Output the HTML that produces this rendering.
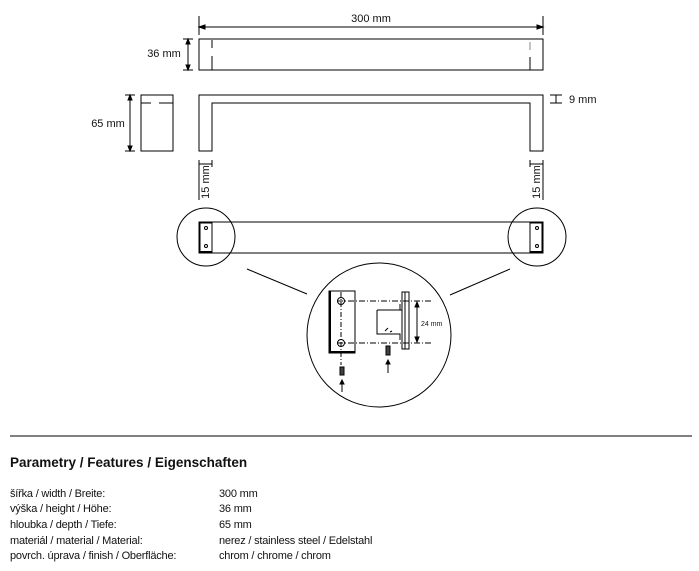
<!DOCTYPE html>
<html><head><meta charset="utf-8"><style>
html,body{margin:0;padding:0;background:#fff;width:699px;height:571px;overflow:hidden}
svg{display:block}
text{font-family:"Liberation Sans",sans-serif;fill:#111}
</style></head><body>
<svg width="699" height="571" viewBox="0 0 699 571" xmlns="http://www.w3.org/2000/svg">
<g stroke="#000" stroke-width="1" fill="none">
<!-- top view -->
<line x1="199" y1="16" x2="199" y2="35"/><line x1="543" y1="16" x2="543" y2="35"/>
<line x1="199" y1="27" x2="543" y2="27"/>
<path d="M199 27l6-2v4z M543 27l-6-2v4z" fill="#000"/>
<rect x="199" y="39" width="344" height="31"/>
<line x1="212" y1="40" x2="212" y2="48"/><line x1="212" y1="56" x2="212" y2="70"/>
<line x1="530" y1="42" x2="530" y2="50" stroke="#888"/><line x1="530" y1="57" x2="530" y2="70"/>
<line x1="188" y1="39" x2="188" y2="70"/><line x1="183" y1="39" x2="193" y2="39"/><line x1="183" y1="70" x2="193" y2="70"/>
<path d="M188 39l-2 5h4z M188 70l-2-5h4z" fill="#000"/>
<!-- side view -->
<path d="M199 151V95H543V151H530V103H212V151Z"/>
<rect x="141" y="95" width="32" height="56"/>
<line x1="141" y1="103" x2="151" y2="103"/><line x1="159" y1="103" x2="173" y2="103"/>
<line x1="130" y1="95" x2="130" y2="151"/><line x1="125" y1="95" x2="135" y2="95"/><line x1="125" y1="151" x2="135" y2="151"/>
<path d="M130 95l-2 5h4z M130 151l-2-5h4z" fill="#000"/>
<line x1="550" y1="95" x2="562" y2="95"/><line x1="550" y1="103" x2="562" y2="103"/><line x1="556" y1="95" x2="556" y2="103"/>
<!-- 15 mm dims -->
<line x1="199" y1="160" x2="199" y2="200"/><line x1="212" y1="160" x2="212" y2="167"/><line x1="199" y1="164" x2="212" y2="164"/>
<line x1="530" y1="160" x2="530" y2="167"/><line x1="543" y1="160" x2="543" y2="200"/><line x1="530" y1="164" x2="543" y2="164"/>
<!-- bottom view -->
<rect x="199" y="222" width="344" height="31"/>
<rect x="200" y="223" width="12" height="29"/><line x1="199" y1="252" x2="212" y2="252" stroke-width="2"/>
<rect x="530" y="223" width="12" height="29"/><line x1="530" y1="252" x2="543" y2="252" stroke-width="2"/>
<circle cx="206" cy="228" r="1.5"/><circle cx="206" cy="246" r="1.5"/>
<circle cx="537" cy="228" r="1.5"/><circle cx="537" cy="246" r="1.5"/>
<circle cx="206" cy="237" r="29"/><circle cx="537" cy="237" r="29"/>
<line x1="247" y1="269" x2="307" y2="294"/><line x1="510" y1="269" x2="450" y2="295"/>
<circle cx="379" cy="335" r="72"/>
<!-- detail -->
<rect x="329" y="291" width="26" height="62"/>
<line x1="330" y1="352" x2="355" y2="352" stroke-width="2"/><line x1="330" y1="291" x2="330" y2="353" stroke-width="2"/>
<circle cx="341" cy="301" r="3.5"/><circle cx="341" cy="343" r="3.5"/>
<line x1="341" y1="292" x2="341" y2="365" stroke-dasharray="5,2,1,2"/>
<line x1="337" y1="301" x2="432" y2="301" stroke-dasharray="6,2,1,2"/>
<line x1="337" y1="343" x2="432" y2="343" stroke-dasharray="6,2,1,2"/>
<path d="M402 292h7v57h-7zM402 310l-5 0v-0M377 310h23v-6M377 310v24h23v6"/>
<line x1="405" y1="292" x2="405" y2="349"/>
<line x1="417" y1="302" x2="417" y2="342"/>
<path d="M417 302l-2 5h4z M417 342l-2-5h4z" fill="#000"/>
<path d="M385 331l3-3 M390 332l2-1"/>
<rect x="340" y="367" width="4" height="8" fill="#444"/>
<rect x="386" y="346" width="4" height="9" fill="#444"/>
<line x1="342" y1="382" x2="342" y2="392"/><path d="M342 380l-2 4h4z" fill="#000"/>
<line x1="388" y1="362" x2="388" y2="373"/><path d="M388 360l-2 4h4z" fill="#000"/>
<line x1="10" y1="436" x2="692" y2="436"/>
</g>
<g font-size="11">
<text x="371" y="22" text-anchor="middle">300 mm</text>
<text x="164" y="57" text-anchor="middle">36 mm</text>
<text x="108" y="127" text-anchor="middle">65 mm</text>
<text x="569" y="103">9 mm</text>
<text transform="translate(209,182) rotate(-90)" text-anchor="middle">15 mm</text>
<text transform="translate(540,182) rotate(-90)" text-anchor="middle">15 mm</text>
</g>
<text x="421" y="326" font-size="7">24 mm</text>
<text x="10" y="467" font-size="13.5" font-weight="bold" fill="#222">Parametry / Features / Eigenschaften</text>
<g font-size="11" letter-spacing="-0.2">
<text x="10" y="497">šířka / width / Breite:</text><text x="219" y="497">300 mm</text>
<text x="10" y="512">výška / height / Höhe:</text><text x="219" y="512">36 mm</text>
<text x="10" y="528">hloubka / depth / Tiefe:</text><text x="219" y="528">65 mm</text>
<text x="10" y="544">materiál / material / Material:</text><text x="219" y="544">nerez / stainless steel / Edelstahl</text>
<text x="10" y="559">povrch. úprava / finish / Oberfläche:</text><text x="219" y="559">chrom / chrome / chrom</text>
</g>
</svg>
</body></html>
